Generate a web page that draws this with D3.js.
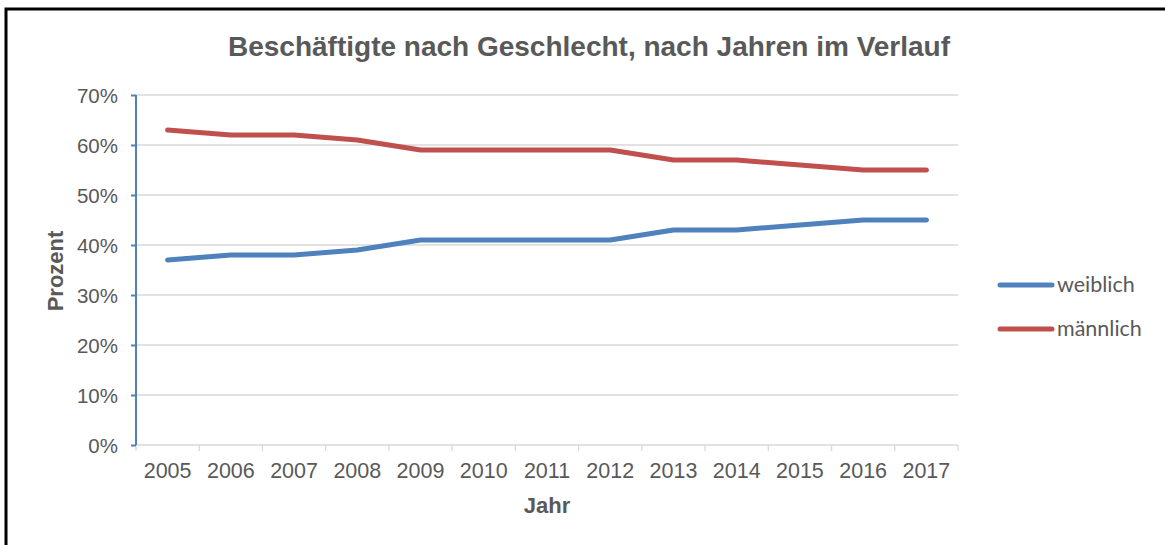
<!DOCTYPE html>
<html>
<head>
<meta charset="utf-8">
<script src="https://cdn.jsdelivr.net/npm/d3@7"></script>
<style>
  body { margin: 0; background: #fff; }
  svg { display: block; }
</style>
</head>
<body>
<div id="chart"></div>
<script>
// Data
const years = ["2005","2006","2007","2008","2009","2010","2011","2012","2013","2014","2015","2016","2017"];
const weiblich = [37, 38, 38, 39, 41, 41, 41, 41, 43, 43, 44, 45, 45];
const maennlich = [63, 62, 62, 61, 59, 59, 59, 59, 57, 57, 56, 55, 55];
const yTicks = [0, 10, 20, 30, 40, 50, 60, 70];
const seriesNames = ["weiblich", "männlich"];

var width = 1165;
var height = 545;
var margin = { top: 95, right: 207, bottom: 100, left: 136 };
var font = "'Liberation Sans', Arial, sans-serif";

var svg = d3.select("#chart")
    .append("svg")
    .attr("width", width)
    .attr("height", height);

// outer frame (right and bottom edges are cut off in the original)
svg.append("rect")
    .attr("x", 6).attr("y", 9)
    .attr("width", width + 10).attr("height", height + 10)
    .attr("fill", "none")
    .attr("stroke", "#000")
    .attr("stroke-width", 3);

var x = d3.scaleBand()
    .domain(years)
    .range([margin.left, width - margin.right]);

var y = d3.scaleLinear()
    .domain([0, 70])
    .range([height - margin.bottom, margin.top]);

var textColor = "#595959";

// gridlines
svg.append("g")
    .selectAll("line")
    .data(yTicks.filter(d => d > 0))
    .enter()
    .append("line")
    .attr("x1", margin.left)
    .attr("x2", width - margin.right)
    .attr("y1", d => y(d))
    .attr("y2", d => y(d))
    .attr("stroke", "#d9d9d9")
    .attr("stroke-width", 1.3);

// x axis
var xAxis = svg.append("g")
    .attr("transform", "translate(0," + y(0) + ")");

xAxis.append("line")
    .attr("x1", margin.left)
    .attr("x2", width - margin.right)
    .attr("stroke", "#d9d9d9")
    .attr("stroke-width", 1.3);

var boundaries = years.map(d => x(d)).concat([x.range()[1]]);
xAxis.selectAll(".xtick")
    .data(boundaries)
    .enter()
    .append("line")
    .attr("class", "xtick")
    .attr("x1", d => d).attr("x2", d => d)
    .attr("y1", 0).attr("y2", 6)
    .attr("stroke", "#d9d9d9")
    .attr("stroke-width", 1.3);

xAxis.selectAll(".xlabel")
    .data(years)
    .enter()
    .append("text")
    .attr("class", "xlabel")
    .attr("x", d => x(d) + x.bandwidth() / 2)
    .attr("y", 33)
    .attr("text-anchor", "middle")
    .style("font-family", font)
    .style("font-size", "21.5px")
    .attr("fill", textColor)
    .text(d => d);

// y axis (blue line like the original)
var yAxis = d3.axisLeft(y)
    .tickValues(yTicks)
    .tickSize(5)
    .tickFormat(d => d + "%");

var yG = svg.append("g")
    .attr("transform", "translate(" + margin.left + ",0)")
    .call(yAxis);

yG.select(".domain").attr("stroke", "#4f81bd").attr("stroke-width", 2)
    .attr("d", "M0," + y(70) + "V" + y(0));
yG.selectAll(".tick line").attr("stroke", "#4f81bd").attr("stroke-width", 2);
yG.selectAll(".tick text")
    .attr("x", -18)
    .attr("dy", "0.36em")
    .style("font-family", font)
    .style("font-size", "20.5px")
    .attr("fill", textColor);

// lines
var line = d3.line()
    .x((d, i) => x(years[i]) + x.bandwidth() / 2)
    .y(d => y(d));

var colors = ["#4f81bd", "#c0504d"];
[weiblich, maennlich].forEach((s, i) => {
    svg.append("path")
        .datum(s)
        .attr("d", line)
        .attr("fill", "none")
        .attr("stroke", colors[i])
        .attr("stroke-width", 5)
        .attr("stroke-linejoin", "round")
        .attr("stroke-linecap", "round");
});

// title
svg.append("text")
    .attr("x", 589)
    .attr("y", 56)
    .attr("text-anchor", "middle")
    .style("font-family", font)
    .style("font-size", "28px")
    .style("font-weight", "bold")
    .attr("fill", textColor)
    .text("Beschäftigte nach Geschlecht, nach Jahren im Verlauf");

// axis titles
svg.append("text")
    .attr("x", (margin.left + width - margin.right) / 2)
    .attr("y", 513)
    .attr("text-anchor", "middle")
    .style("font-family", font)
    .style("font-size", "22px")
    .style("font-weight", "bold")
    .attr("fill", textColor)
    .text("Jahr");

svg.append("text")
    .attr("transform", "translate(63," + ((y(0) + y(70)) / 2 + 1) + ") rotate(-90)")
    .attr("text-anchor", "middle")
    .style("font-family", font)
    .style("font-size", "22px")
    .style("font-weight", "bold")
    .attr("fill", textColor)
    .text("Prozent");

// legend
var legend = svg.append("g")
    .selectAll("g")
    .data(seriesNames)
    .enter()
    .append("g")
    .attr("transform", (d, i) => "translate(1000," + (285 + i * 44) + ")");

legend.append("line")
    .attr("x1", 0).attr("x2", 52)
    .attr("stroke", (d, i) => colors[i])
    .attr("stroke-width", 5)
    .attr("stroke-linecap", "round");

legend.append("text")
    .attr("x", 57)
    .attr("y", 7)
    .style("font-family", "Lato, 'Open Sans', sans-serif")
    .style("font-size", "21.5px")
    .attr("fill", textColor)
    .text(d => d);
</script>
</body>
</html>
